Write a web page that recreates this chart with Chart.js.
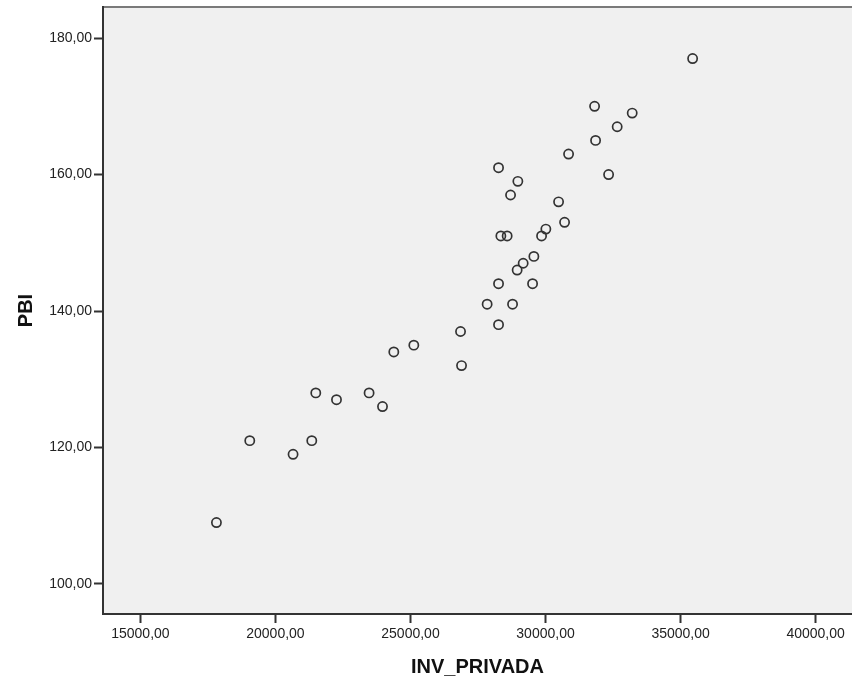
<!DOCTYPE html>
<html>
<head>
<meta charset="utf-8">
<script src="https://cdn.jsdelivr.net/npm/chart.js@4/dist/chart.umd.min.js"></script>
<style>
	body { margin: 0; background: #fff; }
	canvas { display: block; }
</style>
</head>
<body>
<canvas id="scatter" width="852" height="682"></canvas>
<script>
	'use strict';

	// INV_PRIVADA (x) and PBI (y)
	var invPrivada = [
		17815, 19049, 20652, 21345, 21493, 22260, 23467, 23964, 24382, 25123,
		26853, 26890, 27838, 28260, 28260, 28260, 28346, 28579, 28705, 28779,
		28949, 28975, 29172, 29520, 29568, 29853, 30012, 30483, 30705, 30853,
		31816, 31853, 32335, 32653, 33209, 35446
	];
	var pbi = [
		109, 121, 119, 121, 128, 127, 128, 126, 134, 135,
		137, 132, 141, 144, 138, 161, 151, 151, 157, 141,
		146, 159, 147, 144, 148, 151, 152, 156, 153, 163,
		170, 165, 160, 167, 169, 177
	];

	var xTicks = [15000, 20000, 25000, 30000, 35000, 40000];
	var yTicks = [100, 120, 140, 160, 180];

	var points = invPrivada.map(function (x, i) {
		return { x: x, y: pbi[i] };
	});

	function fmt(value) {
		return value.toFixed(2).replace('.', ',');
	}

	// grey plot area and the thin top frame line
	var plotFrame = {
		id: 'plotFrame',
		beforeDraw: function (chart) {
			var a = chart.chartArea;
			var ctx = chart.ctx;
			ctx.save();
			ctx.fillStyle = '#f0f0f0';
			ctx.fillRect(a.left, a.top, a.right - a.left, a.bottom - a.top);
			ctx.strokeStyle = '#7a7a7a';
			ctx.lineWidth = 2;
			ctx.beginPath();
			ctx.moveTo(a.left, a.top);
			ctx.lineTo(a.right, a.top);
			ctx.stroke();
			ctx.restore();
		}
	};

	var tickFont = { family: '"Liberation Sans", Arial, sans-serif', size: 14 };
	var titleFont = { family: '"Liberation Sans", Arial, sans-serif', size: 20, weight: 'bold' };

	new Chart(document.getElementById('scatter'), {
		type: 'scatter',
		data: {
			datasets: [
				{
					data: points,
					pointRadius: 4.6,
					pointHoverRadius: 4.6,
					pointBorderWidth: 1.7,
					pointBorderColor: '#333333',
					pointBackgroundColor: 'rgba(0, 0, 0, 0)'
				}
			]
		},
		options: {
			responsive: false,
			animation: false,
			layout: {
				autoPadding: false,
				padding: { top: 7, right: 0, left: 0, bottom: 0 }
			},
			plugins: {
				legend: { display: false },
				tooltip: { enabled: false }
			},
			scales: {
				x: {
					type: 'linear',
					min: 13615,
					max: 41347,
					afterFit: function (scale) {
						scale.height = 68;
						scale.paddingLeft = 0;
						scale.paddingRight = 0;
					},
					afterBuildTicks: function (scale) {
						scale.ticks = xTicks.map(function (v) {
							return { value: v };
						});
					},
					grid: {
						display: true,
						drawOnChartArea: false,
						drawTicks: true,
						tickLength: 9,
						tickWidth: 2,
						tickColor: '#333333'
					},
					border: { display: true, color: '#333333', width: 2 },
					ticks: {
						color: '#222222',
						font: tickFont,
						padding: 3,
						maxRotation: 0,
						autoSkip: false,
						callback: function (value) {
							return fmt(value);
						}
					},
					title: {
						display: true,
						text: 'INV_PRIVADA',
						color: '#111111',
						font: titleFont,
						padding: { top: 0, bottom: 3 }
					}
				},
				y: {
					type: 'linear',
					min: 95.6,
					max: 184.55,
					afterFit: function (scale) {
						scale.width = 103;
						scale.paddingTop = 0;
						scale.paddingBottom = 0;
					},
					afterBuildTicks: function (scale) {
						scale.ticks = yTicks.map(function (v) {
							return { value: v };
						});
					},
					grid: {
						display: true,
						drawOnChartArea: false,
						drawTicks: true,
						tickLength: 9,
						tickWidth: 2,
						tickColor: '#333333'
					},
					border: { display: true, color: '#333333', width: 2 },
					ticks: {
						color: '#222222',
						font: tickFont,
						padding: 2,
						autoSkip: false,
						callback: function (value) {
							return fmt(value);
						}
					},
					title: {
						display: true,
						text: 'PBI',
						color: '#111111',
						font: titleFont,
						padding: { top: 14, bottom: 0 }
					}
				}
			}
		},
		plugins: [plotFrame]
	});
</script>
</body>
</html>
